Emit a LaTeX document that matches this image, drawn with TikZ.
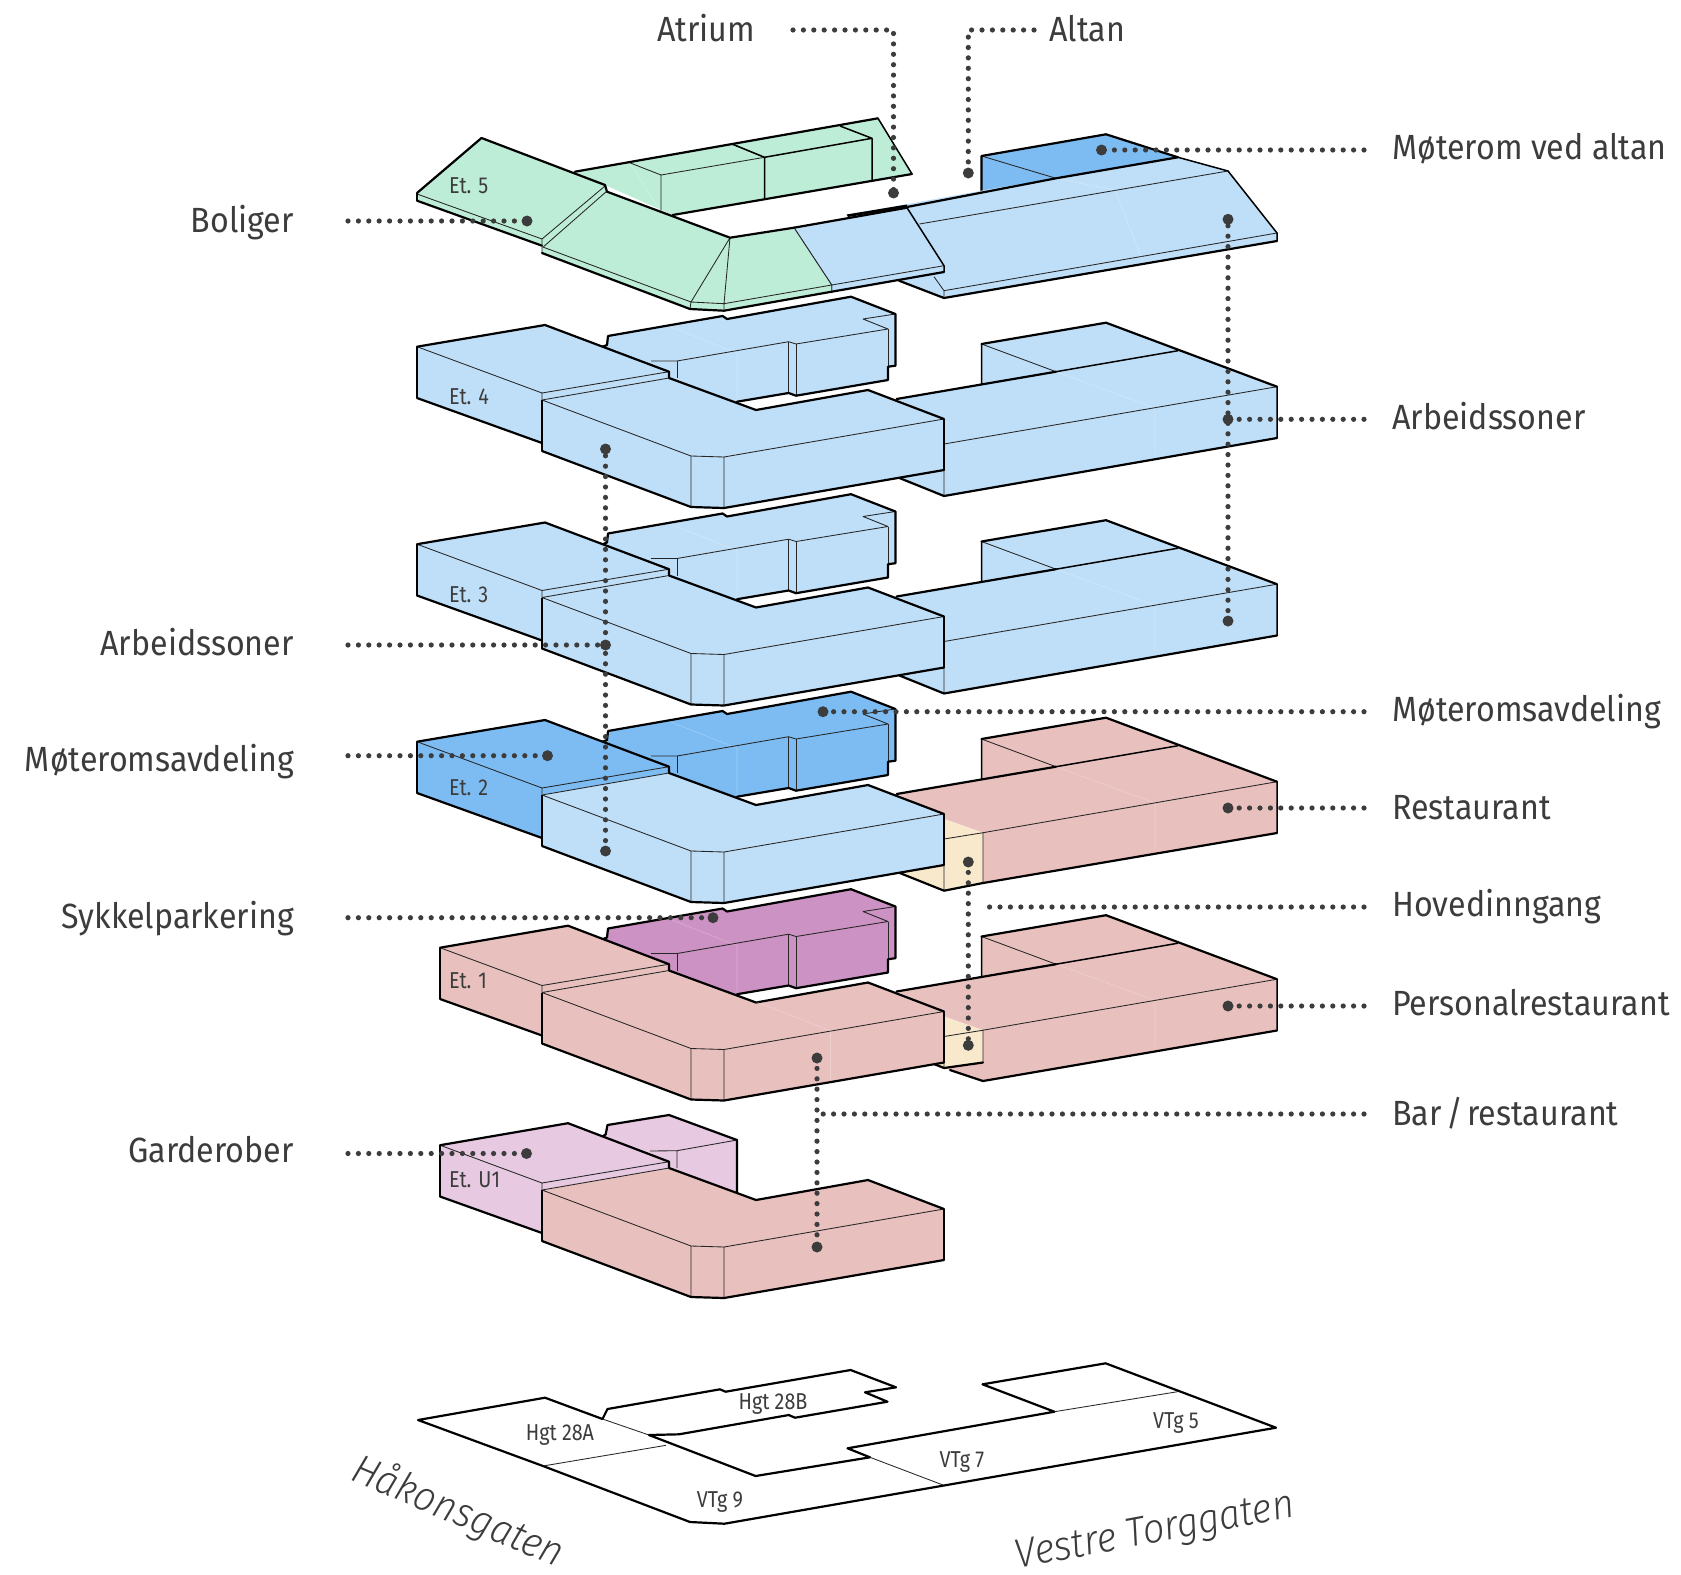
\documentclass[tikz,border=0pt]{standalone}
\usepackage{fontspec}
\setmainfont{Fira Sans}[FakeStretch=0.92]
\newfontfamily\smallfont{Fira Sans}[FakeStretch=0.86]
\newfontfamily\streetfont{Fira Sans Light}[FakeStretch=0.93,ItalicFont={Fira Sans Light Italic}]
\definecolor{bl}{HTML}{BFDFF8}
\definecolor{bd}{HTML}{7DBCF2}
\definecolor{gr}{HTML}{BEEDD7}
\definecolor{pk}{HTML}{E8C1BE}
\definecolor{pu}{HTML}{CC92C4}
\definecolor{li}{HTML}{E7C9E1}
\definecolor{be}{HTML}{F9E9CC}
\definecolor{ink}{HTML}{3C3C3C}
\tikzset{
  thk/.style={draw=black,line width=2.2pt,line join=round,line cap=round},
  med/.style={draw=black,line width=1.5pt,line join=round},
  thn/.style={draw=black!85,line width=0.85pt,line join=round},
  fnt/.style={draw=white,line width=0.6pt,opacity=0.25},
  lead/.style={draw=ink,line width=5.2pt,line cap=round,dash pattern=on 0pt off 10.4pt},
  enddot/.style={circle,fill=ink,inner sep=0pt,minimum size=11pt},
  lab/.style={text=ink,font=\fontsize{35}{38}\selectfont,inner sep=0pt},
  small/.style={text=ink,font=\smallfont\fontsize{23}{25}\selectfont,inner sep=0pt},
  street/.style={text=ink,font=\streetfont\itshape\fontsize{41}{44}\selectfont,inner sep=0pt}
}
% back block: colour, vertical offset
\newcommand\backblock[2]{\begin{scope}[shift={(0,#2)}]
  \fill[#1] (602,347)--(607,345)--(608,336)--(722.6,316)--(727,319)--(851,296.7)--(895.4,314)--(895.4,365.7)--(888,366.7)--(888,380)--(796,395.7)--(788.6,393)--(737,401.7)--(737,410)--(650,400)--cycle;
  \draw[fnt] (670,326.7)--(737,353)--(737,401.7);
  \draw[thn] (888,329)--(888,380) (796,344)--(796,395.7) (788.6,341.7)--(788.6,393) (677,361)--(677,378);
  \draw[thn] (895.4,314)--(863,319)--(888,329)--(796,344)--(788.6,341.7)--(677,361)--(651,361);
  \draw[thk] (602,347)--(607,345)--(608,336)--(722.6,316)--(727,319)--(851,296.7)--(895.4,314)--(895.4,365.7)--(888,366.7)--(888,380)--(796,395.7)--(788.6,393)--(737,401.7);
\end{scope}}
% side wing: colour, offset, left x, top y of left corner, x of back corner, y of back corner, y of foot
\newcommand\wingblock[7]{\begin{scope}[shift={(0,#2)}]
  \fill[#1] (#3,#4)--(#5,#6)--(669,371.7)--(669,378)--(542,400)--(542,443)--(#3,#7)--cycle;
  \draw[thn] (#3,#4)--(542,393)--(669,371.7) (542,393)--(542,400);
  \draw[med] (#3,#4)--(#3,#7);
  \draw[thk] (#3,#7)--(542,443) (#3,#4)--(#5,#6)--(669,371.7)--(669,378);
\end{scope}}
\newcommand\longwing[2]{\wingblock{#1}{#2}{417}{346.7}{545}{325}{398}}
\newcommand\shortwing[2]{\wingblock{#1}{#2}{440}{355.2}{568}{333.2}{406.5}}
% main block
\newcommand\mainblock[2]{\begin{scope}[shift={(0,#2)}]
  \fill[#1] (542,400)--(669,378)--(756,410)--(868,390)--(944,419)--(944,470)--(724,508)--(691,507)--(542,451)--cycle;
  \draw[thn] (542,400)--(669,378) (542,400)--(691,456)--(724,457)--(944,419) (691,456)--(691,507) (724,457)--(724,508);
  \draw[med] (542,400)--(542,451) (944,419)--(944,470);
  \draw[thk] (669,378)--(756,410)--(868,390)--(944,419) (542,451)--(691,507)--(724,508)--(944,470);
\end{scope}}
% right block, office version
\newcommand\rightblock[2]{\begin{scope}[shift={(0,#2)}]
  \fill[#1] (896.6,399)--(981.5,384)--(981.5,344)--(1106,322.7)--(1277,386.7)--(1277,438)--(944,496)--(899.4,478)--(944,470)--(944,419)--cycle;
  \draw[fnt] (1056,371.7)--(1155,408)--(1155,453);
  \draw[thn] (981.5,344)--(1056,371.7) (944,444)--(1277,386.7) (944,470)--(944,496);
  \draw[med] (981.5,344)--(981.5,384) (1277,386.7)--(1277,438) (1056,371.7)--(1178,350.7);
  \draw[thk] (896.6,399)--(1056,371.7) (981.5,344)--(1106,322.7)--(1277,386.7) (1277,438)--(944,496)--(899.4,478);
\end{scope}}
% right block with entrance on the front corner
\newcommand\rightentrance[4]{\begin{scope}[shift={(0,#2)}]
  \fill[#1] (896.6,399)--(981.5,384)--(981.5,344)--(1106,322.7)--(1277,386.7)--(1277,438)--(983,#3)--(983,437.7)--(944,424)--(944,419)--cycle;
  \draw[fnt] (1056,371.7)--(1155,408)--(1155,453);
  \draw[thn] (981.5,344)--(1056,371.7) (983,437.7)--(1277,386.7);
  \draw[med] (981.5,344)--(981.5,384) (1277,386.7)--(1277,438) (1056,371.7)--(1178,350.7);
  \draw[thk] (896.6,399)--(1056,371.7) (981.5,344)--(1106,322.7)--(1277,386.7) (1277,438)--(983,#3);
  #4
\end{scope}}
\begin{document}
\begin{tikzpicture}[x=1pt,y=-1pt]
\useasboundingbox (0,0) rectangle (1681,1574);
\fill[white] (0,0) rectangle (1681,1574);

%% ---------- Floor 5 ----------
\fill[gr] (575,171.7)--(878,118.3)--(912,174)--(672.7,215)--cycle;
\draw[thn] (732,144)--(764.5,157.3)--(661,175)--(629.6,162.7) (661,175)--(661,211.7);
\draw[fnt] (629.6,162.7)--(661,211.7);
\draw[med] (840,126)--(872,138.3)--(764.5,157.3) (872,138.3)--(872,180) (732,144)--(764.5,157.3)--(764.5,199);
\draw[thk] (575,171.7)--(878,118.3);
\draw[med] (878,118.3)--(912,174);
\draw[thk] (912,174)--(672.7,215);
% right block roof
\fill[bd] (981.5,156)--(1106,134.3)--(1178,157.3)--(1056,178.3)--(981.5,190.7)--cycle;
\draw[thn] (981.5,156)--(1056,178.3);
\draw[thk] (981.5,190.7)--(981.5,156)--(1106,134.3)--(1178,157.3);
\fill[bl] (846.6,215)--(981.5,190.7)--(1178,157.3)--(1228,171)--(1277,233)--(1277,241)--(944,298)--(899,280.7)--(944,272)--(907,207.7)--cycle;
\fill[black] (846.6,214.5)--(907,204.5)--(907,207.5)--(848,217)--cycle;
\draw[thn] (919.5,224)--(1228,171) (944,290.7)--(1277,233) (934,276.7)--(944,290.7)--(944,298);
\draw[fnt] (1056,178.3)--(1115,190)--(1150,280);
\draw[med] (1178,157.3)--(1228,171)--(1277,233)--(1277,241);
\draw[thk] (907,207)--(1056,178.3)--(1178,157.3) (1277,241)--(944,298)--(899,280.7);
% green wing
\fill[gr] (417,193)--(481.5,138)--(605,185)--(607,191)--(543.5,246.7)--(542,245.7)--(417,200.7)--cycle;
\draw[thn] (417,194)--(542,239);
\draw[med] (417,193)--(417,200.7);
\draw[thk] (417,193)--(481.5,138)--(605,185) (417,200.7)--(542,245.7);
% main roof: blue part then green part
\fill[bl] (794,227.7)--(907,207.7)--(944,265.7)--(944,272)--(831.7,291.7)--(831.7,285)--cycle;
\draw[thn] (794,227.7)--(831.7,285)--(944,265.7) (831.7,285)--(831.7,291.7);
\draw[med] (907,207.7)--(944,265.7)--(944,272);
\draw[thk] (794,227.7)--(907,207.7) (944,272)--(831.7,291.7);
\fill[gr] (542,246.7)--(607,191.7)--(730,237.7)--(794,227.7)--(831.7,285)--(831.7,291.7)--(724,310.7)--(690,309)--(542,253)--cycle;
\draw[thn] (542,246.7)--(691,302)--(724,303.7)--(831.7,285)--(794,227.7) (730,237.7)--(691,302) (730,237.7)--(724,303.7) (691,302)--(690,309) (724,303.7)--(724,310.7) (831.7,285)--(831.7,291.7);
\draw[thn] (605,186)--(542,239) (607,191)--(543.5,246.7) (542,239)--(542,253);
\draw[thk] (605,185)--(607,191.7)--(730,237.7)--(794,227.7) (542,253)--(690,309)--(724,310.7)--(831.7,291.7);
\node[small,anchor=west] (et5) at (449,185.5) {Et. 5};

%% ---------- Floor 4 ----------
\backblock{bl}{0}
\longwing{bl}{0}
\rightblock{bl}{0}
\mainblock{bl}{0}
\node[small,anchor=west] (et4) at (449,396.6) {Et. 4};

%% ---------- Floor 3 ----------
\backblock{bl}{197.5}
\longwing{bl}{197.5}
\rightblock{bl}{197.5}
\mainblock{bl}{197.5}
\node[small,anchor=west] (et3) at (449,595) {Et. 3};

%% ---------- Floor 2 ----------
\backblock{bd}{395}
\longwing{bd}{395}
\rightentrance{pk}{395}{488}{%
  \fill[be] (944,424)--(983,437.7)--(983,488)--(944,495.7)--(899,477.7)--(944,470)--cycle;
  \draw[thn] (944,444)--(983,437.7)--(983,488) (944,444)--(944,495.7);
  \draw[thk] (983,488)--(944,495.7)--(899,477.7);
}
\mainblock{bl}{395}
\node[small,anchor=west] (et2) at (449,788) {Et. 2};

%% ---------- Floor 1 ----------
\backblock{pu}{592.5}
\shortwing{pk}{592.5}
\rightentrance{pk}{592.5}{488.5}{%
  \fill[pk] (983,470)--(983,488.5)--(944,475.5)--cycle;
  \fill[be] (944,424)--(983,437.7)--(983,470)--(944,475.5)--(934,471.5)--(944,470)--cycle;
  \draw[thn] (944,444)--(983,437.7)--(983,470) (944,444)--(944,475.5);
  \draw[thk] (983,470)--(944,475.5)--(934,471.5) (983,488.5)--(950,477.5);
}
\mainblock{pk}{592.5}
\draw[fnt] (756,1001.7)--(830.5,1030.7)--(830.5,1080);
\node[small,anchor=west] (et1) at (449,981) {Et. 1};

%% ---------- Floor U1 ----------
\begin{scope}[shift={(0,790)}]
  \fill[li] (602,347)--(605.7,344.3)--(607.5,335)--(669,325)--(737,350)--(737,401.7)--(737,410)--(650,400)--cycle;
  \draw[thn] (737,350)--(677,360.7)--(650,361) (677,360.7)--(677,378);
  \draw[thk] (602,347)--(605.7,344.3)--(607.5,335)--(669,325)--(737,350)--(737,401.7);
\end{scope}
\shortwing{li}{790}
\mainblock{pk}{790}
\node[small,anchor=west] (etu) at (449,1180) {Et. U1};

%% ---------- Ground plan ----------
\draw[thk] (602.5,1419)--(607.5,1409)--(720,1389.3)--(725.6,1391.7)--(850.6,1370)--(896,1387.3)--(865,1392.3)--(887.5,1401.7)--(795,1417.7)--(788.75,1415)--(679,1434.3)--(649,1435);
\draw[thk] (602.5,1419)--(545,1397.7)--(418,1420)--(543,1466)--(690,1522)--(724.4,1523.7)--(1276,1427.7)--(1105.6,1363.3)--(982.5,1384.3)--(1054.4,1411.7)--(847.5,1448.3)--(870,1457.3)--(755.6,1476)--(649,1435);
\draw[thn] (602.5,1419)--(649,1435) (543,1466)--(666,1445.3) (1054.4,1411.7)--(1177.5,1391.7) (870,1457.3)--(943,1485);
\node[small] (hgta) at (560,1435) {Hgt 28A};
\node[small] (hgtb) at (773,1404) {Hgt 28B};
\node[small] (vtg9) at (720,1502) {VTg 9};
\node[small] (vtg7) at (962,1462) {VTg 7};
\node[small] (vtg5) at (1176,1423) {VTg 5};
\node[street,rotate=-23] (hak) at (458,1512) {Håkonsgaten};
\node[street,rotate=10.5] (vest) at (1155,1533) {Vestre Torggaten};

%% ---------- Labels ----------
\node[lab,anchor=base] (atrium) at (706,41) {Atrium};
\node[lab,anchor=base west] (altan) at (1049,41) {Altan};
\node[lab,anchor=base west] (ralt) at (1392,159.5) {Møterom ved altan};
\node[lab,anchor=base west] (rarb) at (1392,429) {Arbeidssoner};
\node[lab,anchor=base west] (rmot) at (1392,721) {Møteromsavdeling};
\node[lab,anchor=base west] (rres) at (1392,819) {Restaurant};
\node[lab,anchor=base west] (rhov) at (1392,916) {Hovedinngang};
\node[lab,anchor=base west] (rper) at (1392,1015) {Personalrestaurant};
\node[lab,anchor=base west] (rbar) at (1392,1125) {Bar\hspace{4.5pt}/\hspace{4.5pt}restaurant};
\node[lab,anchor=base east] (lbol) at (294,232) {Boliger};
\node[lab,anchor=base east] (larb) at (294,655) {Arbeidssoner};
\node[lab,anchor=base east] (lmot) at (294,771) {Møteromsavdeling};
\node[lab,anchor=base east] (lsyk) at (294,928) {Sykkelparkering};
\node[lab,anchor=base east] (lgar) at (294,1162) {Garderober};

%% ---------- Leaders ----------
\coordinate (sAtr) at (793,30);
\coordinate (sAlt) at (1034,30);
\node[enddot] (dAtr) at (893.5,193) {};
\node[enddot] (dAlt) at (968.3,173) {};
\draw[lead] (sAtr) -| (dAtr.center);
\draw[lead] (sAlt) -| (dAlt.center);
\node[enddot] (dRalt) at (1101.5,150) {};
\coordinate (sRalt) at (1364,150);
\draw[lead] (sRalt) -- (dRalt.center);
\node[enddot] (dRarb) at (1228,419.3) {};
\node[enddot] (dRt) at (1228,219.3) {};
\node[enddot] (dRb) at (1228,621) {};
\coordinate (sRarb) at (1364,419.3);
\draw[lead] (sRarb) -- (dRarb.center);
\draw[lead] (dRb.center) -- (dRt.center);
\node[enddot] (dBol) at (527,221) {};
\coordinate (sBol) at (348,221);
\draw[lead] (sBol) -- (dBol.center);
\node[enddot] (dLarb) at (605.5,645) {};
\node[enddot] (dLt) at (605.5,449) {};
\node[enddot] (dLb) at (605.5,851) {};
\coordinate (sLarb) at (348,645);
\draw[lead] (sLarb) -- (dLarb.center);
\draw[lead] (dLb.center) -- (dLt.center);
\node[enddot] (dRmot) at (823,711.7) {};
\coordinate (sRmot) at (1364,711.7);
\draw[lead] (sRmot) -- (dRmot.center);
\node[enddot] (dLmot) at (547.5,755.7) {};
\coordinate (sLmot) at (348,755.7);
\draw[lead] (sLmot) -- (dLmot.center);
\node[enddot] (dRres) at (1228,808) {};
\coordinate (sRres) at (1364,808);
\draw[lead] (sRres) -- (dRres.center);
\node[enddot] (dHt) at (968.3,862) {};
\node[enddot] (dHb) at (968.3,1045.3) {};
\coordinate (sHov) at (1364,907);
\coordinate (eHov) at (984,907);
\draw[lead] (dHt.center) -- (dHb.center);
\draw[lead] (sHov) -- (eHov);
\node[enddot] (dSyk) at (713,917.7) {};
\coordinate (sSyk) at (348,917.7);
\draw[lead] (sSyk) -- (dSyk.center);
\node[enddot] (dPer) at (1228,1006) {};
\coordinate (sPer) at (1364,1006);
\draw[lead] (sPer) -- (dPer.center);
\node[enddot] (dBt) at (817,1058) {};
\node[enddot] (dBb) at (817,1247) {};
\coordinate (sBar) at (1364,1114);
\coordinate (eBar) at (817,1114);
\draw[lead] (dBt.center) -- (dBb.center);
\draw[lead] (sBar) -- (eBar);
\node[enddot] (dGar) at (526.5,1153.5) {};
\coordinate (sGar) at (348,1153.5);
\draw[lead] (sGar) -- (dGar.center);
\end{tikzpicture}
\end{document}
